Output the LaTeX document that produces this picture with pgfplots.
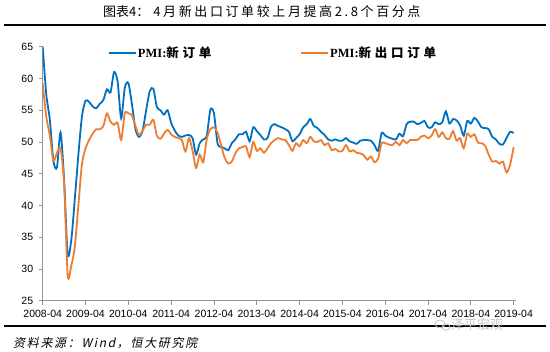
\documentclass[border=0pt]{standalone}
\usepackage{fontspec}
\usepackage{pgfplots}
\usepackage{pgfplotstable}
\pgfplotsset{compat=1.18}
\setmainfont{Liberation Sans}
\newfontfamily\cjk{Noto Sans CJK SC}
\newfontfamily\cjkls[LetterSpace=20]{Noto Sans CJK SC}
\newfontfamily\cjkleg[LetterSpace=30]{Noto Sans CJK SC}
\newfontfamily\cjkit[FakeSlant=0.2,LetterSpace=14]{Noto Sans CJK SC}
\newfontfamily\tnr{Liberation Serif}
\definecolor{pmiblue}{RGB}{0,112,192}
\definecolor{pmiorange}{RGB}{237,125,49}
\definecolor{axgray}{RGB}{150,150,150}

\pgfplotstableread{
m v
0 65
1 57.5
2 53.5
3 47.0
4 46.0
5 51.5
6 44.0
7 32.3
8 34.5
9 41.0
10 48.0
11 54.0
12 56.5
13 56.3
14 55.6
15 55.3
16 56.0
17 56.6
18 58.3
19 57.8
20 61.0
21 59.5
22 53.7
23 58.5
24 59.3
25 56.0
26 52.0
27 50.8
28 51.8
29 55.0
30 58.0
31 58.4
32 55.5
33 55.0
34 54.3
35 55.0
36 53.0
37 51.8
38 51.0
39 50.8
40 51.0
41 51.1
42 50.6
43 48.0
44 49.8
45 50.4
46 51.0
47 55.1
48 54.5
49 49.8
50 49.2
51 49.0
52 48.7
53 49.8
54 50.4
55 51.2
56 51.2
57 51.6
58 50.1
59 52.3
60 51.7
61 51.1
62 50.4
63 50.6
64 52.4
65 52.8
66 52.5
67 52.3
68 52.0
69 51.6
70 50.1
71 50.6
72 51.2
73 52.3
74 52.8
75 53.6
76 52.5
77 52.2
78 51.6
79 51.1
80 50.4
81 50.2
82 50.4
83 50.2
84 50.2
85 50.6
86 50.1
87 49.9
88 49.7
89 50.2
90 50.3
91 50.3
92 50.2
93 49.5
94 48.6
95 51.4
96 51.0
97 50.7
98 50.5
99 50.4
100 51.3
101 50.9
102 52.8
103 53.2
104 53.2
105 52.8
106 53.0
107 53.3
108 52.3
109 52.3
110 53.1
111 52.8
112 53.1
113 54.8
114 52.9
115 53.6
116 53.4
117 52.6
118 51.0
119 53.3
120 52.9
121 53.8
122 53.2
123 52.3
124 52.2
125 52.0
126 50.8
127 50.4
128 49.7
129 49.6
130 50.6
131 51.6
132 51.4
}\neworders

\pgfplotstableread{
m v
0 59.2
1 54.0
2 51.0
3 47.0
4 48.3
5 49.0
6 43.5
7 29.0
8 30.5
9 33.5
10 40.0
11 46.5
12 49.0
13 50.3
14 51.3
15 52.0
16 52.0
17 52.5
18 54.5
19 53.2
20 52.7
21 53.0
22 50.3
23 54.5
24 54.5
25 54.2
26 52.5
27 51.1
28 51.8
29 52.7
30 52.7
31 53.5
32 51.0
33 50.5
34 51.3
35 51.9
36 51.2
37 50.8
38 50.6
39 50.3
40 48.5
41 50.6
42 48.6
43 45.9
44 48.0
45 46.8
46 50.5
47 52.0
48 52.3
49 51.5
50 49.5
51 47.5
52 46.6
53 46.9
54 48.2
55 49.0
56 49.2
57 49.3
58 47.6
59 50.0
60 48.6
61 49.0
62 48.3
63 49.0
64 49.8
65 50.3
66 50.6
67 50.4
68 50.3
69 49.5
70 48.6
71 49.8
72 49.3
73 50.3
74 49.8
75 50.8
76 50.1
77 50.0
78 50.3
79 49.5
80 49.8
81 48.7
82 48.9
83 48.5
84 48.6
85 49.5
86 48.5
87 48.7
88 48.3
89 48.2
90 47.9
91 47.2
92 47.7
93 46.8
94 47.4
95 49.8
96 49.8
97 49.6
98 49.5
99 50.0
100 49.5
101 50.3
102 49.8
103 50.3
104 50.3
105 50.3
106 50.8
107 51.0
108 50.6
109 51.0
110 52.0
111 50.8
112 51.5
113 50.6
114 50.5
115 51.7
116 50.2
117 50.6
118 49.0
119 51.3
120 50.8
121 51.2
122 49.9
123 49.8
124 49.4
125 48.0
126 46.9
127 47.0
128 46.6
129 46.9
130 45.2
131 46.4
132 49.2
}\exportorders

\begin{document}
\begin{tikzpicture}[x=1pt,y=1pt]
\useasboundingbox (0,0) rectangle (550,352);
% title
\node[anchor=west, inner sep=0pt, font=\fontsize{13}{15}\selectfont] at (103,340)
  {{\cjk 图表4：}\hspace{4pt}{\cjkls 4月新出口订单较上月提高2.8个百分点}};
\draw[line width=2pt] (4,326.5) -- (546,326.5);
\draw[line width=1.5pt] (4,26) -- (546,26);
% source
\node[anchor=west, inner sep=0pt, font=\fontsize{12}{14}\selectfont] at (13,9)
  {\cjkit 资料来源：Wind，恒大研究院};
% watermark
\node[anchor=center, inner sep=0pt, text=gray!45, font=\fontsize{13}{15}\selectfont] at (477,27)
  {\cjk 泽平宏观};
\draw[gray!45, line width=0.8pt] (440,28) ellipse (5 and 4);
\draw[gray!45, line width=0.8pt] (446,25) ellipse (4 and 3.2);

\begin{axis}[
  at={(42.7pt,51.3pt)}, anchor=south west,
  scale only axis, width=473.1pt, height=254pt,
  xmin=0, xmax=132.6, ymin=25, ymax=65,
  axis x line=bottom, axis y line=left,
  axis line style={-, axgray, line width=0.8pt},
  xtick={0,12,...,132},
  xticklabels={2008-04,2009-04,2010-04,2011-04,2012-04,2013-04,2014-04,2015-04,2016-04,2017-04,2018-04,2019-04},
  ytick={25,30,...,65},
  tick align=outside, major tick length=4pt,
  tick style={axgray, line width=0.8pt},
  minor tick num=0,
  tick label style={font=\fontsize{10.5}{12}\selectfont, text=black},
  xticklabel style={yshift=-2pt},
  yticklabel style={xshift=-2pt},
  /pgf/number format/assume math mode=true,
  clip=true,
  legend columns=2,
  legend style={at={(0.138,0.976)}, anchor=west, draw=none, fill=none,
    inner sep=0pt, font=\fontsize{12.5}{14}\selectfont\bfseries,
    nodes={inner sep=1pt},
    /tikz/every even column/.append style={column sep=88pt}},
  legend cell align=left,
  legend image code/.code={\draw[#1, line width=1.8pt] (0pt,0pt) -- (27pt,0pt);},
]
\addplot[pmiblue, line width=1.8pt, smooth, tension=0.45] table[x=m,y=v] {\neworders};
\addlegendentry{{\tnr\bfseries PMI:}{\cjkleg\bfseries 新订单}}
\addplot[pmiorange, line width=1.8pt, smooth, tension=0.45] table[x=m,y=v] {\exportorders};
\addlegendentry{{\tnr\bfseries PMI:}{\cjkleg\bfseries 新出口订单}}
\end{axis}
\end{tikzpicture}
\end{document}
